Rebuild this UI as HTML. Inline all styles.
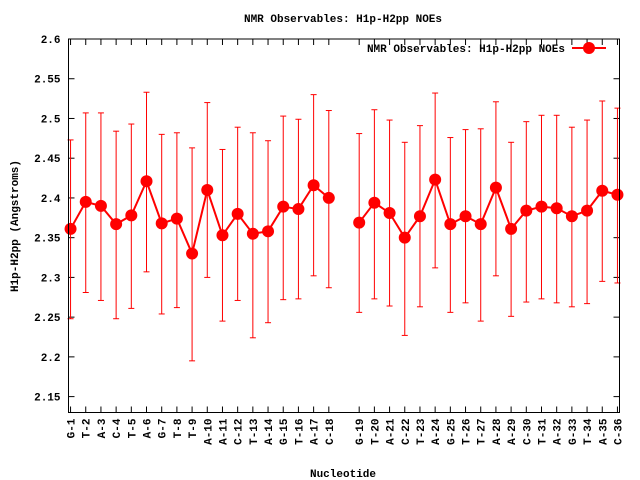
<!DOCTYPE html>
<html><head><meta charset="utf-8"><style>
html,body{margin:0;padding:0;background:#fff;}
svg{display:block;font-family:"Liberation Mono",monospace;font-weight:bold;}
</style></head><body>
<svg id="chart" width="640" height="480" viewBox="0 0 640 480" xmlns="http://www.w3.org/2000/svg">
<rect width="640" height="480" fill="#fff"/>
<text x="343" y="22" font-size="11" text-anchor="middle">NMR Observables: H1p-H2pp NOEs</text>
<text transform="translate(18,226) rotate(-90)" font-size="11" text-anchor="middle">H1p-H2pp (Angstroms)</text>
<text x="343" y="477" font-size="11" text-anchor="middle">Nucleotide</text>
<g id="grid"></g>
<g id="errs"></g>
<g id="series"></g>
<rect x="68.5" y="39" width="551" height="373.5" fill="none" stroke="#000" stroke-width="1"/>
<g>
<text x="565" y="52" font-size="11" text-anchor="end">NMR Observables: H1p-H2pp NOEs</text>
<line x1="572" y1="48" x2="606" y2="48" stroke="#ff0000" stroke-width="2"/>
<circle cx="589" cy="48" r="6" fill="#ff0000"/>
</g>
</svg>
<script>
const labels = ["G-1","T-2","A-3","C-4","T-5","A-6","G-7","T-8","T-9","A-10","A-11","C-12","T-13","A-14","G-15","T-16","A-17","C-18",null,"G-19","T-20","A-21","C-22","T-23","A-24","G-25","T-26","T-27","A-28","A-29","C-30","T-31","A-32","G-33","T-34","A-35","C-36"];
const values = [2.361,2.395,2.390,2.367,2.378,2.421,2.368,2.374,2.330,2.410,2.353,2.380,2.355,2.358,2.389,2.386,2.416,2.400,null,2.369,2.394,2.381,2.350,2.377,2.423,2.367,2.377,2.367,2.413,2.361,2.384,2.389,2.387,2.377,2.384,2.409,2.404];
const upper = [2.473,2.507,2.507,2.484,2.493,2.533,2.480,2.482,2.463,2.520,2.461,2.489,2.482,2.472,2.503,2.499,2.530,2.510,null,2.481,2.511,2.498,2.470,2.491,2.532,2.476,2.486,2.487,2.521,2.470,2.496,2.504,2.504,2.489,2.498,2.522,2.513];
const lower = [2.248,2.281,2.271,2.248,2.261,2.307,2.254,2.262,2.195,2.300,2.245,2.271,2.224,2.243,2.272,2.273,2.302,2.287,null,2.256,2.273,2.264,2.227,2.263,2.312,2.256,2.268,2.245,2.302,2.251,2.269,2.273,2.268,2.263,2.267,2.295,2.293];
const yTicks = [2.15,2.2,2.25,2.3,2.35,2.4,2.45,2.5,2.55,2.6];
const yTickLabels = ["2.15","2.2","2.25","2.3","2.35","2.4","2.45","2.5","2.55","2.6"];

const NS="http://www.w3.org/2000/svg";
const L=68.5,R=619.5,T=39,B=412.5,YMIN=2.13,YMAX=2.6;
const XMIN=1-0.135,XMAX=labels.length+0.135;
function xs(i){return L+(i+1-XMIN)/(XMAX-XMIN)*(R-L);}
function ys(v){return T+(YMAX-v)/(YMAX-YMIN)*(B-T);}
function mk(tag,attrs,parent){const e=document.createElementNS(NS,tag);for(const k in attrs)e.setAttribute(k,attrs[k]);parent.appendChild(e);return e;}
const grid=document.getElementById('grid'),errs=document.getElementById('errs'),ser=document.getElementById('series');

yTicks.forEach((v,i)=>{
  const y=ys(v);
  const t=mk('line',{x1:L,x2:L+6,y1:y,y2:y,stroke:'#000'},grid);
  
  
  const t2=mk('line',{x1:R-6,x2:R,y1:y,y2:y,stroke:'#000'},grid);
  
  
  const tx=mk('text',{x:L-8,y:y+4,'font-size':11,'text-anchor':'end'},grid);
  tx.textContent=yTickLabels[i];
  
  
});
labels.forEach((lab,i)=>{
  if(lab===null)return;
  const x=xs(i);
  const t=mk('line',{x1:x,x2:x,y1:B,y2:B-6,stroke:'#000'},grid);
  
  
  const t2=mk('line',{x1:x,x2:x,y1:T,y2:T+6,stroke:'#000'},grid);
  
  
  const tx=mk('text',{transform:`translate(${x+4},${B+6}) rotate(-90)`,'font-size':11,'text-anchor':'end'},grid);
  tx.textContent=lab;
  
  
});
let segs=[],cur=[];
values.forEach((v,i)=>{
  if(v===null){if(cur.length)segs.push(cur);cur=[];return;}
  cur.push(xs(i)+','+ys(v));
  const x=xs(i);
  const g=mk('g',{stroke:'#ff0000','stroke-width':1},errs);
  
  
  mk('line',{x1:x,x2:x,y1:ys(upper[i]),y2:ys(lower[i])},g);
  mk('line',{x1:x-3,x2:x+3,y1:ys(upper[i]),y2:ys(upper[i])},g);
  mk('line',{x1:x-3,x2:x+3,y1:ys(lower[i]),y2:ys(lower[i])},g);
});
if(cur.length)segs.push(cur);
segs.forEach(s=>{
  const p=mk('polyline',{points:s.join(' '),fill:'none',stroke:'#ff0000','stroke-width':2},ser);
  
  
});
values.forEach((v,i)=>{
  if(v===null)return;
  const c=mk('circle',{cx:xs(i),cy:ys(v),r:6,fill:'#ff0000'},ser);
  
  
});
</script>
</body></html>
